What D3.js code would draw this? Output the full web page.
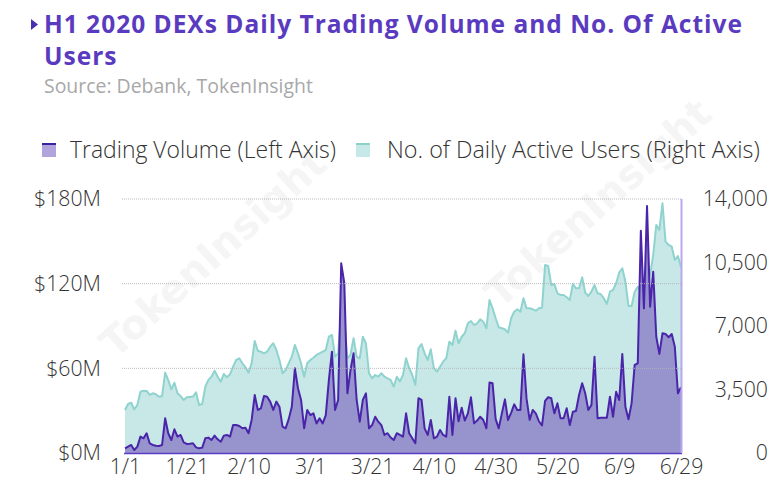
<!DOCTYPE html>
<html>
<head>
<meta charset="utf-8">
<script src="https://cdn.jsdelivr.net/npm/d3@7"></script>
<style>
html,body{margin:0;padding:0;background:#fff;}
svg{display:block;}
</style>
</head>
<body>
<svg id="chart" width="784" height="489"></svg>
<script>
// ---------- DATA ----------
const startDate = "2020-01-01";
const endDate = "2020-06-29";
// Daily trading volume, million USD (left axis), 1/1 .. 6/29
const volume = [
3.3,4.5,5.7,2.1,4.5,11.6,10.4,14.0,6.9,5.7,
5.2,5.0,5.7,24.6,14.0,9.2,16.8,11.6,12.8,7.5,
6.4,6.6,6.9,4.0,3.3,3.8,10.4,10.9,9.2,12.3,
9.7,8.0,12.3,12.8,11.6,19.8,19.8,19.1,17.5,17.9,
14.0,23.4,41.1,30.5,31.7,40.4,39.9,36.4,30.5,36.4,
32.8,18.7,17.5,24.0,32.8,60.0,45.9,37.6,17.5,30.5,
26.9,28.1,21.0,24.6,21.0,26.9,51.7,71.8,30.5,37.6,
134.4,120.3,42.3,58.8,70.7,37.6,22.2,37.6,42.3,17.5,
19.8,25.7,22.2,19.8,12.8,14.0,11.0,9.2,14.0,12.8,
11.6,28.1,14.0,10.4,6.9,38.8,37.6,17.5,12.8,23.4,
10.4,11.6,16.3,12.8,11.6,39.9,12.8,38.8,22.5,32.0,
23.0,28.1,39.5,21.0,23.0,25.7,23.4,17.5,50.0,49.4,
24.0,17.5,28.1,38.0,23.4,28.5,34.5,30.5,30.5,70.0,
38.5,23.5,30.5,28.1,22.5,19.5,37.0,39.5,38.8,28.1,
35.2,24.6,24.6,31.7,19.8,29.3,29.8,41.1,49.4,42.3,
30.5,34.0,68.2,24.6,25.0,25.0,25.0,39.9,25.7,43.4,
37.6,70.2,32.8,23.9,35.2,62.4,63.6,157.5,102.5,175.0,
103.7,128.5,82.4,70.2,84.8,84.3,82.0,84.3,75.3,42.3,
46.6
];
// Number of daily active users (right axis)
const users = [
2370,2700,2770,2400,2650,3380,3430,3420,3200,3290,
3240,3100,3140,4430,4020,3510,3875,3290,3140,2920,
3070,3090,3110,3346,2646,2700,3654,4024,4206,4536,
4206,3930,4355,4172,4338,4757,5126,5220,4944,4724,
4426,4944,6173,5639,5584,5495,5584,5860,6047,5677,
5126,4393,4575,4944,5308,5953,5495,4944,4206,4944,
5126,5250,5402,5495,5584,5677,6410,6504,5308,5495,
7788,7237,5220,5402,6322,5308,5220,6410,6047,4393,
4117,4299,4206,4393,4206,4117,4024,3654,4206,3950,
4299,5220,4669,4299,3748,5771,6008,5495,5126,5716,
4669,4482,4757,5033,5220,6135,5953,6741,6047,6410,
6598,7149,7276,7055,7149,7370,7237,6873,8433,7976,
7425,6929,6873,6818,6631,7425,7788,7921,7788,8527,
7976,7976,7921,7843,7976,8000,10363,10307,9260,9315,
8803,8710,8710,8582,8433,9315,9077,9077,9684,8836,
8654,8891,9260,8803,8764,8527,8213,8891,8985,9354,
9938,10181,9442,8103,8103,8891,9166,8891,9260,10418,
9811,10914,12567,12292,13764,11647,11465,11372,10638,10859,
10236
];
const leftTicks = [0, 60, 120, 180];
const rightTicks = [0, 3500, 7000, 10500, 14000];
const xTickLabels = ["1/1","1/21","2/10","3/1","3/21","4/10","4/30","5/20","6/9","6/29"];
const seriesNames = ["Trading Volume (Left Axis)", "No. of Daily Active Users (Right Axis)"];
const titleLines = ["H1 2020 DEXs Daily Trading Volume and No. Of Active", "Users"];
const sourceText = "Source: Debank, TokenInsight";
const watermark = "TokenInsight";

// ---------- LAYOUT ----------
const svg = d3.select("#chart");
const parse = d3.timeParse("%Y-%m-%d");
const t0 = parse(startDate), t1 = parse(endDate);
const dates = d3.timeDay.range(t0, d3.timeDay.offset(t1, 1));
const L = 125, R = 681, T = 199, B = 453;

const x = d3.scaleTime().domain([t0, t1]).range([L, R]);
const yL = d3.scaleLinear().domain([0, 180]).range([B, T]);
const yR = d3.scaleLinear().domain([0, 14000]).range([B, T]);

const txtFont = "'Open Sans', 'Noto Sans', sans-serif";

// fit helpers
function fitWidth(sel, target) {
  sel.each(function(){
    const w = this.getComputedTextLength();
    const fs = parseFloat(d3.select(this).attr("font-size"));
    if (w > 0) d3.select(this).attr("font-size", (fs * target / w).toFixed(2));
  });
}
function fitSpacing(sel, target) {
  sel.each(function(){
    const w = this.getComputedTextLength();
    const n = this.textContent.length;
    if (w > 0 && n > 1) d3.select(this).attr("letter-spacing", Math.max(0, (target - w) / (n - 1)).toFixed(3));
  });
}

// Title
svg.append("path")
  .attr("d", "M31,19 L38,24.5 L31,30 Z")
  .attr("fill", "#4a2fae");
const titles = svg.selectAll("text.title").data(titleLines).join("text")
  .attr("class","title")
  .attr("x", 44).attr("y", (d,i)=> 33 + i*32)
  .attr("font-family", "'Open Sans', Lato, sans-serif")
  .attr("font-weight", 700)
  .attr("font-size", 24.5)
  .attr("fill", "#5a3bbf")
  .text(d=>d);
fitSpacing(titles.filter((d,i)=>i===0), 698);
titles.filter((d,i)=>i===1).attr("letter-spacing", titles.filter((d,i)=>i===0).attr("letter-spacing"));

const src = svg.append("text")
  .attr("x", 44).attr("y", 93)
  .attr("font-family", "'Open Sans', Lato, sans-serif")
  .attr("font-size", 16)
  .attr("fill", "#a8a8a8")
  .text(sourceText);
fitWidth(src, 269);

// Legend
const legend = svg.append("g");
const lg1 = legend.append("g").attr("transform","translate(42,143)");
lg1.append("rect").attr("width",14).attr("height",14).attr("fill","#b1a3dc");
lg1.append("rect").attr("width",14).attr("height",2).attr("fill","#3d1fa0");
const lt1 = lg1.append("text").attr("x",28).attr("y",14.5)
  .attr("font-family",txtFont).attr("font-weight",300).attr("font-size",20).attr("fill","#333")
  .text(seriesNames[0]);
fitWidth(lt1, 266);
const lg2 = legend.append("g").attr("transform","translate(356,143)");
lg2.append("rect").attr("width",14).attr("height",14).attr("fill","#c6e8e8");
lg2.append("rect").attr("width",14).attr("height",2).attr("fill","#8ccfcb");
const lt2 = lg2.append("text").attr("x",31).attr("y",14.5)
  .attr("font-family",txtFont).attr("font-weight",300).attr("font-size",20).attr("fill","#333")
  .text(seriesNames[1]);
fitWidth(lt2, 373);

// Areas
const usersData = dates.map((d,i)=>({d, v: users[i]}));
const volData = dates.map((d,i)=>({d, v: volume[i]}));

svg.append("path").datum(usersData)
  .attr("fill", "#c8e8e8")
  .attr("d", d3.area().x(p=>x(p.d)).y0(B).y1(p=>yR(p.v)));
svg.append("path").datum(usersData)
  .attr("fill", "none").attr("stroke", "#8fd3cf").attr("stroke-width", 2)
  .attr("stroke-linejoin","round")
  .attr("d", d3.line().x(p=>x(p.d)).y(p=>yR(p.v)));

svg.append("path").datum(volData)
  .attr("fill", "#9693cd")
  .attr("d", d3.area().x(p=>x(p.d)).y0(B).y1(p=>yL(p.v)));
svg.append("path").datum(volData)
  .attr("fill", "none").attr("stroke", "#4a25aa").attr("stroke-width", 2)
  .attr("stroke-linejoin","round")
  .attr("d", d3.line().x(p=>x(p.d)).y(p=>yL(p.v)));

// Gridlines (dotted)
svg.append("g").selectAll("line").data(leftTicks.filter(v=>v>0)).join("line")
  .attr("x1", L-3).attr("x2", R)
  .attr("y1", d=>yL(d)).attr("y2", d=>yL(d))
  .attr("stroke", "#b5b5b5").attr("stroke-width", 1).attr("stroke-dasharray","1,1")
  .attr("opacity", 0.9);

// Baseline and right border
svg.append("line").attr("x1", L-1).attr("x2", R+1).attr("y1", B+0.5).attr("y2", B+0.5)
  .attr("stroke", "#5b3cc4").attr("stroke-width", 1.5);
svg.append("line").attr("x1", R+0.5).attr("x2", R+0.5).attr("y1", T).attr("y2", B)
  .attr("stroke", "#b9a6ee").attr("stroke-width", 2);

// Axes
const axL = d3.axisLeft(yL).tickValues(leftTicks).tickFormat(v=>"$"+v+"M").tickSize(0).tickPadding(0);
const gL = svg.append("g").attr("transform", "translate(101,0)").call(axL);
const axR = d3.axisRight(yR).tickValues(rightTicks).tickFormat(d3.format(",")).tickSize(0).tickPadding(0);
const gR = svg.append("g").attr("transform", "translate(768,0)").call(axR);
gR.selectAll("text").attr("text-anchor","end");
const xTicks = xTickLabels.map((s,i)=>d3.timeDay.offset(t0, i*20));
const axX = d3.axisBottom(x).tickValues(xTicks).tickFormat((d,i)=>xTickLabels[i]).tickSize(0).tickPadding(0);
const gX = svg.append("g").attr("transform", "translate(0,459)").call(axX);
[gL,gR,gX].forEach(g=>{
  g.select(".domain").remove();
  g.selectAll("text").attr("font-family", txtFont).attr("font-weight",300).attr("font-size", 20).attr("fill", "#333");
});
// size axis labels so "$180M" spans the reference width
const ref = gL.selectAll("text").filter(v=>v===180).node();
const axFs = (20 * 67 / ref.getComputedTextLength()).toFixed(2);
[gL,gR,gX].forEach(g=>g.selectAll("text").attr("font-size", axFs));

// Faint watermarks
const wm = svg.append("g").attr("pointer-events","none").attr("aria-hidden","true");
[[215,255],[600,205]].forEach(([cx,cy])=>{
  wm.append("text").attr("transform",`translate(${cx},${cy}) rotate(-42)`)
    .attr("text-anchor","middle").attr("dominant-baseline","middle")
    .attr("font-family","'DejaVu Sans', sans-serif").attr("font-weight","bold").attr("font-size",40)
    .attr("fill","#000").attr("opacity",0.035)
    .text(watermark);
});
</script>
</body>
</html>
